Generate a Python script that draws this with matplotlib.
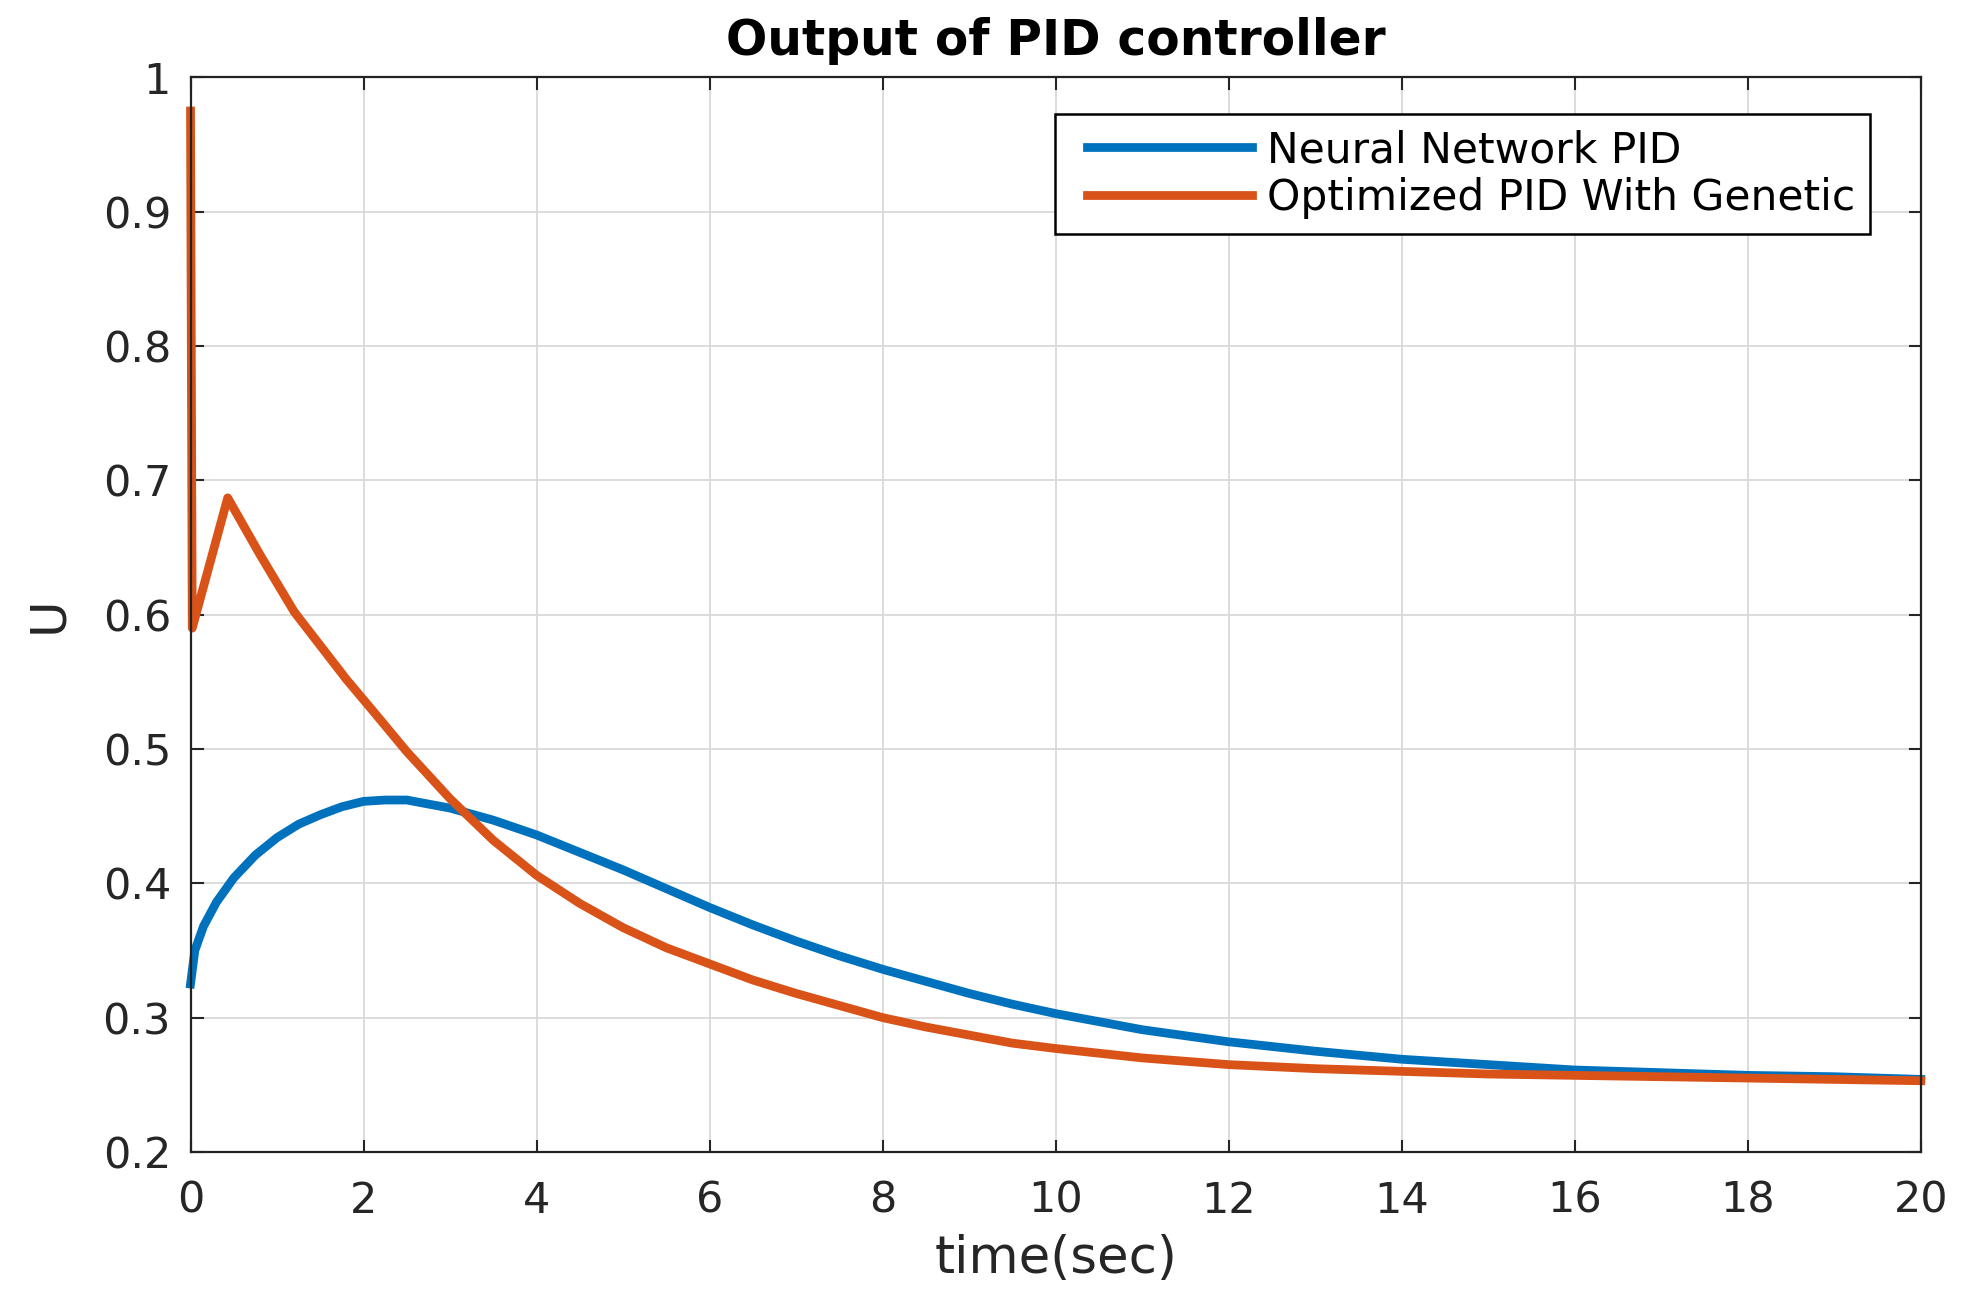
import matplotlib
matplotlib.use("Agg")
import matplotlib.pyplot as plt
from matplotlib.ticker import FormatStrFormatter
from matplotlib.legend_handler import HandlerLine2D

# values
t_nn = [0, 0.05, 0.15, 0.3, 0.5, 0.75, 1.0, 1.25, 1.5, 1.75, 2.0, 2.25, 2.5,
        2.75, 3.0, 3.5, 4, 4.5, 5, 5.5, 6, 6.5, 7, 7.5, 8, 8.5, 9, 9.5, 10,
        11, 12, 13, 14, 15, 16, 17, 18, 19, 20]
u_nn = [0.325, 0.35, 0.368, 0.386, 0.404, 0.421, 0.434, 0.444, 0.451, 0.457,
        0.461, 0.462, 0.462, 0.459, 0.456, 0.447, 0.436, 0.423, 0.410, 0.396,
        0.382, 0.369, 0.357, 0.346, 0.336, 0.327, 0.318, 0.310, 0.303, 0.291,
        0.282, 0.275, 0.269, 0.265, 0.261, 0.259, 0.257, 0.256, 0.254]

t_ga = [0, 0.02, 0.43, 0.8, 1.2, 1.5, 1.8, 2.1, 2.5, 3.0, 3.5, 4, 4.5, 5,
        5.5, 6, 6.5, 7, 7.5, 8, 8.5, 9, 9.5, 10, 11, 12, 13, 14, 15, 16, 17,
        18, 19, 20]
u_ga = [0.975, 0.59, 0.687, 0.645, 0.602, 0.577, 0.552, 0.529, 0.498, 0.463,
        0.432, 0.406, 0.385, 0.367, 0.352, 0.340, 0.328, 0.318, 0.309, 0.300,
        0.293, 0.287, 0.281, 0.277, 0.270, 0.265, 0.262, 0.260, 0.258, 0.257,
        0.256, 0.255, 0.254, 0.253]

series_names = ["Neural Network PID", "Optimized PID With Genetic"]
x_ticks = list(range(0, 21, 2))
y_ticks = [0.2, 0.3, 0.4, 0.5, 0.6, 0.7, 0.8, 0.9, 1.0]

plt.rcParams['font.family'] = ['DejaVu Sans']

fig = plt.figure(figsize=(19.64, 13.12), dpi=100)
ax = fig.add_axes([0.097, 0.122, 0.881, 0.819])

l1, = ax.plot(t_nn, u_nn, color='#0072BD', lw=6.3, label=series_names[0],
              clip_on=False, solid_joinstyle='round')
l2, = ax.plot(t_ga, u_ga, color='#D95319', lw=6.3, label=series_names[1],
              clip_on=False, solid_joinstyle='round')

ax.set_xlim(0, 20)
ax.set_ylim(0.2, 1.0)
ax.set_xticks(x_ticks)
ax.set_yticks(y_ticks)
ax.yaxis.set_major_formatter(FormatStrFormatter('%g'))
ax.grid(True, color='#d9d9d9', lw=1.3)
ax.set_axisbelow(True)
ax.tick_params(direction='in', length=9, width=1.5, top=True, right=True,
               labelsize=31, colors='#262626', labelcolor='#262626')
ax.tick_params(axis='x', pad=20)
ax.tick_params(axis='y', pad=14)
for sp in ax.spines.values():
    sp.set_linewidth(1.6)
    sp.set_color('#222222')

ax.set_title("Output of PID controller", fontsize=35, fontweight='bold', pad=16)
ax.set_xlabel("time(sec)", fontsize=37, color='#262626', labelpad=9)
ax.set_ylabel("U", fontsize=36, color='#262626', labelpad=22)

# shift the legend lines right a bit, like the wider left padding of the original
hmap = {l1: HandlerLine2D(xpad=0.42), l2: HandlerLine2D(xpad=0.42)}
leg = ax.legend(handles=[l1, l2], handler_map=hmap,
                loc='upper right', bbox_to_anchor=(0.9705, 0.9655),
                borderaxespad=0, fontsize=30.5, handlelength=4.3,
                fancybox=False, framealpha=1, edgecolor='black',
                borderpad=0.35, labelspacing=0.13, handletextpad=0.35)
leg.get_frame().set_linewidth(1.8)

fig.savefig("out.png", dpi=100)
